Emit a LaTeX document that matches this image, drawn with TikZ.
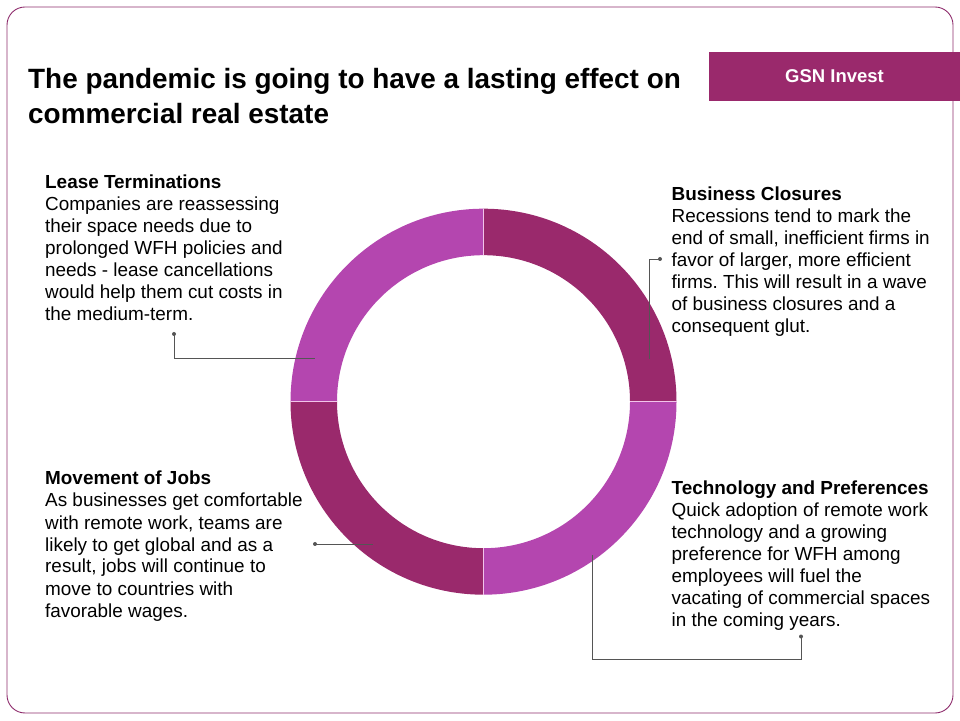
\documentclass[tikz,border=0pt]{standalone}
\usepackage{fontspec}
\setmainfont{Liberation Sans}
\frenchspacing
\usetikzlibrary{calc}
\definecolor{ringdark}{HTML}{9A296C}
\definecolor{ringlight}{HTML}{B446AF}
\definecolor{sepline}{HTML}{F2C4EA}
\definecolor{frame}{HTML}{8E2C6C}
\definecolor{conn}{HTML}{555555}
\begin{document}
\begin{tikzpicture}[x=1pt,y=1pt,
  bodytext/.style={align=left,inner sep=0pt,anchor=base west,font=\fontsize{18.9}{22}\selectfont,text=black},
  connline/.style={draw=conn,line width=0.9pt},
  conndot/.style={fill=conn},
]
\useasboundingbox (0,0) rectangle (960,720);
% frame
\draw[frame,line width=0.9pt,rounded corners=18pt] (7,7) rectangle (953,713);
% header box
\fill[ringdark] (709,619) rectangle (960,668);
\node[text=white,font=\fontsize{18.5}{22}\selectfont\bfseries] (brand) at (834.5,643.5) {GSN Invest};
% title (anchor = baseline of last line)
\node[align=left,inner sep=0pt,anchor=base west,font=\fontsize{27.9}{35}\selectfont\bfseries] (title) at (28,596.7)
  {The pandemic is going to have a lasting effect on\\commercial real estate};
% ring
\coordinate (c) at (483.5,318.3);
\def\ro{193}
\def\ri{146.5}
\fill[ringdark] ($(c)+(0:\ro pt)$) arc[start angle=0,end angle=90,radius=\ro pt] -- ($(c)+(90:\ri pt)$) arc[start angle=90,end angle=0,radius=\ri pt] -- cycle;
\fill[ringlight] ($(c)+(90:\ro pt)$) arc[start angle=90,end angle=180,radius=\ro pt] -- ($(c)+(180:\ri pt)$) arc[start angle=180,end angle=90,radius=\ri pt] -- cycle;
\fill[ringdark] ($(c)+(180:\ro pt)$) arc[start angle=180,end angle=270,radius=\ro pt] -- ($(c)+(270:\ri pt)$) arc[start angle=270,end angle=180,radius=\ri pt] -- cycle;
\fill[ringlight] ($(c)+(270:\ro pt)$) arc[start angle=270,end angle=360,radius=\ro pt] -- ($(c)+(0:\ri pt)$) arc[start angle=360,end angle=270,radius=\ri pt] -- cycle;
\foreach \a in {0,90,180,270}{
  \draw[sepline,line width=1.2pt] ($(c)+(\a:\ri pt)$) -- ($(c)+(\a:\ro pt)$);
}
% text blocks (anchor = baseline of last line)
\node[bodytext] (lease) at (45,399) {\textbf{Lease Terminations}\\Companies are reassessing\\their space needs due to\\prolonged WFH policies and\\needs - lease cancellations\\would help them cut costs in\\the medium-term.};
\node[bodytext] (business) at (671.5,387.3) {\textbf{Business Closures}\\Recessions tend to mark the\\end of small, inefficient firms in\\favor of larger, more efficient\\firms. This will result in a wave\\of business closures and a\\consequent glut.};
\node[bodytext] (movement) at (45,103) {\textbf{Movement of Jobs}\\As businesses get comfortable\\with remote work, teams are\\likely to get global and as a\\result, jobs will continue to\\move to countries with\\favorable wages.};
\node[bodytext] (tech) at (671.5,93.5) {\textbf{Technology and Preferences}\\Quick adoption of remote work\\technology and a growing\\preference for WFH among\\employees will fuel the\\vacating of commercial spaces\\in the coming years.};
% connectors
\coordinate (leasedot) at (174,386);
\coordinate (leaseend) at (315,362);
\coordinate (busdot) at (660,461);
\coordinate (busend) at (649,361);
\coordinate (movdot) at (315,176);
\coordinate (movend) at (373,176);
\coordinate (techdot) at (801,83.5);
\coordinate (techend) at (592,165);
\draw[connline] (leasedot) |- (leaseend);
\draw[connline] (busdot) -| (busend);
\draw[connline] (movdot) -- (movend);
\draw[connline] (techdot) -- (801,61) -| (techend);
\foreach \p in {leasedot,busdot,movdot,techdot}{\fill[conndot] (\p) circle (2pt);}
\end{tikzpicture}
\end{document}
